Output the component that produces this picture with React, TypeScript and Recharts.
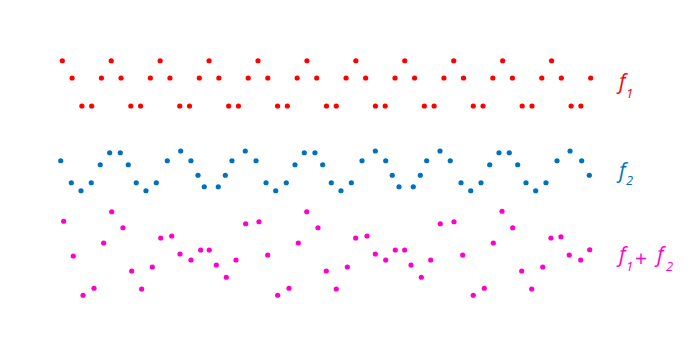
import {FC} from "react";
import {ScatterChart, Scatter, XAxis, YAxis} from 'recharts';

// f1: a cosine with a period of five samples
const f1Values = [
    1, 0.31, -0.81, -0.81, 0.31, 1, 0.31, -0.81, -0.81, 0.31,
    1, 0.31, -0.81, -0.81, 0.31, 1, 0.31, -0.81, -0.81, 0.31,
    1, 0.31, -0.81, -0.81, 0.31, 1, 0.31, -0.81, -0.81, 0.31,
    1, 0.31, -0.81, -0.81, 0.31, 1, 0.31, -0.81, -0.81, 0.31,
    1, 0.31, -0.81, -0.81, 0.31, 1, 0.31, -0.81, -0.81, 0.31,
    1, 0.31, -0.81, -0.81, 0.31,
];

// f2: sample times are not quite even
const f2Times = [
    -0.16, 0.92, 1.91, 2.96, 3.88, 4.84, 5.93, 6.74, 7.56, 8.55,
    9.61, 10.73, 12.10, 13.15, 13.87, 14.51, 15.94, 16.66, 17.34, 18.70,
    19.80, 20.82, 21.81, 22.89, 23.78, 24.73, 25.82, 26.61, 27.49, 28.48,
    29.54, 30.63, 31.99, 33.05, 33.72, 34.41, 35.87, 36.59, 37.24, 38.60,
    39.65, 40.75, 41.74, 42.79, 43.68, 44.63, 45.68, 46.54, 47.39, 48.38,
    49.43, 50.56, 51.89, 53.08, 53.86,
];
const f2Values = [
    0.41, -0.47, -0.79, -0.47, 0.25, 0.73, 0.73, 0.25, -0.47, -0.79,
    -0.47, 0.41, 0.80, 0.41, -0.17, -0.63, -0.63, -0.17, 0.41, 0.80,
    0.41, -0.47, -0.79, -0.47, 0.25, 0.73, 0.73, 0.25, -0.47, -0.79,
    -0.47, 0.41, 0.80, 0.41, -0.17, -0.63, -0.63, -0.17, 0.41, 0.80,
    0.41, -0.47, -0.79, -0.47, 0.25, 0.73, 0.73, 0.25, -0.47, -0.79,
    -0.47, 0.41, 0.80, 0.41, -0.17,
];

// f1 + f2
const sumTimes = [
    0.14, 1.12, 2.12, 3.24, 4.23, 5.05, 6.20, 7.09, 8.11, 9.20,
    10.06, 11.18, 12.03, 13.15, 14.14, 15.02, 15.74, 16.76, 17.75, 18.74,
    20.10, 20.99, 22.01, 23.17, 24.12, 24.98, 26.13, 26.98, 28.00, 29.13,
    29.98, 31.14, 31.99, 33.05, 34.03, 34.99, 35.64, 36.69, 37.65, 38.63,
    40.03, 40.92, 42.00, 43.13, 44.05, 44.94, 46.03, 46.95, 47.97, 49.10,
    49.94, 50.96, 51.81, 52.98, 53.90,
];
const sumValues = [
    1.29, -0.10, -1.67, -1.39, 0.42, 1.67, 1.03, -0.70, -1.42, -0.54,
    0.62, 0.70, -0.02, -0.26, 0.14, 0.14, -0.46, -0.95, -0.26, 1.19,
    1.27, -0.06, -1.67, -1.39, 0.42, 1.67, 1.03, -0.70, -1.42, -0.54,
    0.62, 0.70, -0.02, -0.26, 0.14, 0.14, -0.46, -0.95, -0.26, 1.19,
    1.27, -0.06, -1.67, -1.39, 0.42, 1.69, 1.03, -0.70, -1.42, -0.54,
    0.62, 0.67, -0.06, -0.26, 0.15,
];

const RED = '#ff0000';
const BLUE = '#0072bd';
const MAGENTA = '#ff00cc';

// vertical place of each row on the shared axis
const rowOffset = {f1: -3.43, f2: -6.84, sum: -10.14};

const toPoints = (times: number[], values: number[], offset: number) =>
    values.map((v, i) => ({x: times[i], y: v + offset}));

const f1Data = toPoints(f1Values.map((_, i) => i), f1Values, rowOffset.f1);
const f2Data = toPoints(f2Times, f2Values, rowOffset.f2);
const sumData = toPoints(sumTimes, sumValues, rowOffset.sum);

const dot = (color: string) => (props: any) =>
    <circle cx={props.cx} cy={props.cy} r={2.6} fill={color}/>;

const labelFont = {fontFamily: '"Open Sans", sans-serif', fontStyle: 'italic' as const};

const App: FC = () => {
    return (
        <div style={{position: 'absolute', left: 0, top: 0, width: 695, height: 360, background: 'white'}}>
            <ScatterChart width={695} height={360} margin={{top: 0, right: 0, bottom: 0, left: 0}}>
                <XAxis type="number" dataKey="x" domain={[-6.367, 64.66]} hide allowDataOverflow/>
                <YAxis type="number" dataKey="y" domain={[-14.4, 0]} hide allowDataOverflow/>
                <Scatter data={f1Data} shape={dot(RED)} isAnimationActive={false}/>
                <Scatter data={f2Data} shape={dot(BLUE)} isAnimationActive={false}/>
                <Scatter data={sumData} shape={dot(MAGENTA)} isAnimationActive={false}/>
            </ScatterChart>
            <svg width={695} height={360} style={{position: 'absolute', left: 0, top: 0}}>
                <g style={labelFont}>
                    <text x={619} y={89} fontSize={21} fill={RED}>f</text>
                    <text x={626} y={98} fontSize={13} fill={RED}>1</text>
                    <text x={619} y={178} fontSize={21} fill={BLUE}>f</text>
                    <text x={626} y={185} fontSize={13} fill={BLUE}>2</text>
                    <text x={619} y={262} fontSize={21} fill={MAGENTA}>f</text>
                    <text x={626} y={271} fontSize={13} fill={MAGENTA}>1</text>
                    <text x={635} y={266} fontSize={21} fill={MAGENTA} style={{fontStyle: 'normal'}}>+</text>
                    <text x={657} y={262} fontSize={21} fill={MAGENTA}>f</text>
                    <text x={666} y={271} fontSize={13} fill={MAGENTA}>2</text>
                </g>
            </svg>
        </div>
    );
};

export default App;
